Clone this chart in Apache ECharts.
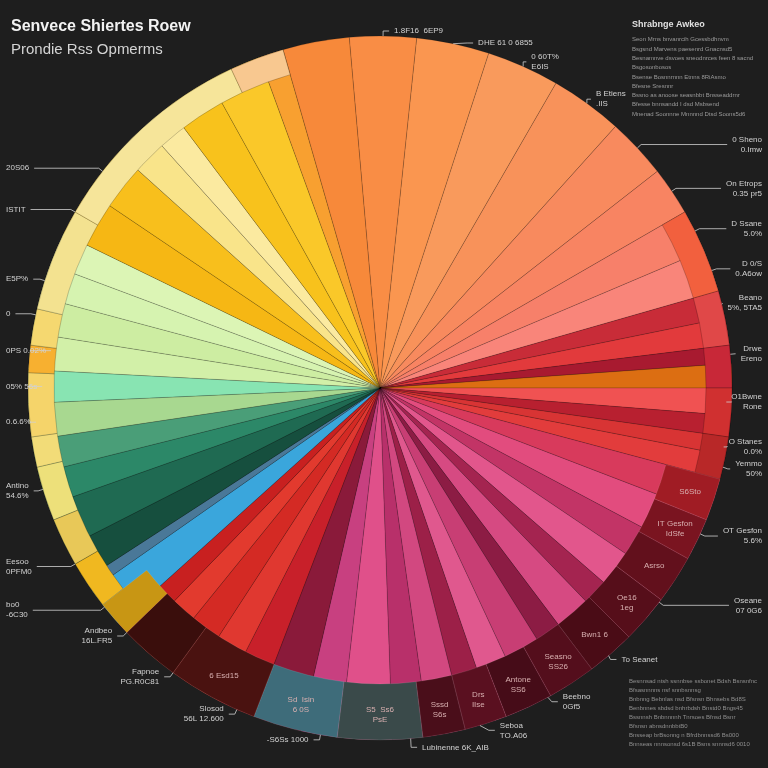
<!DOCTYPE html>
<html>
<head>
<meta charset="utf-8">
<script src="https://cdn.jsdelivr.net/npm/echarts@6/dist/echarts.min.js"></script>
<style>
  html, body { margin: 0; padding: 0; background: #1e1e1e; }
  #chart { width: 768px; height: 768px; }
</style>
</head>
<body>
<div id="chart"></div>
<script>
var titleText = 'Senvece Shiertes Roew';
var subtitleText = 'Prondie Rss Opmerms';
var noteTitle = 'Shrabnge Awkeo';
var noteLines = [
    'Seon Mrns bnvanrcih Gcessbdhnvm',
    'Bsgsnd Marvens paesenrd Gnacnsd5',
    'Besnamnve dsvoes sneodnrces feen 8 sacnd',
    'Bsgosonbosos',
    'Bsense Bosnnrnnn Etnns 8RiAsmo',
    'Bfesne Sresnnr',
    'Bssno as anoose seasnbbt Bnsseaddrnr',
    'Bfesse bnnsandd I dsd Msbsend',
    'Mnenad Soonnne Mnnnnd Dtsd Soons5d6'
];
var footLines = [
    'Besnnsad ntsh ssnnbse ssbonet Bdsh Bsnsnfnc',
    'Bfsasnnnns nsf snnbsnnsg',
    'Bnbnng Bebnlas nsd Bfsnsn Bhnsebs Bd8S',
    'Benbnnes sbdsd bnhrbdsh Bnstd0 Bngs45',
    'Bssnnsh Bnbnnnnh Tnrsoes Bfnsd Bsnr',
    'Bfsnsn abnsdnnbbtB0',
    'Bnsseap brBsonng n Bfrdbnnssd6 Bs000',
    'Bnnseas nnnsonsd 6s1B Bsns snnnsd6 0010'
];

// slice shares (degrees), clockwise from the first orange slice at the top left
var sliceValues = [
    11, 11, 12, 12, 12, 10, 8,
    7, 7,
    4.5, 4.5, 3, 4, 4.5, 3.5, 3, 4,
    6, 7, 6, 7, 5, 7, 5, 7, 6, 5, 6, 6, 8.5, 6.5, 8,
    6, 6, 6, 5, 4,
    7, 2,
    6, 7.5, 5.5, 5.5, 6, 5.5,
    6, 6, 5.5, 5.5,
    8, 8, 6, 5, 8, 9, 4
];
var sliceLabels = [
    '', '1.8F16  6EP9', 'DHE 61 0 6855', '0 60T%\nE6IS', 'B Etiens\n.IIS', '0 Sheno\n0.Imw', 'On Etrops\n0.35 pr5',
    'D Ssane\n5.0%', 'D 0/S\n0.A6ow',
    'Beano\n5%, 5TA5', '', 'Drwe\nEreno', '', 'O1Bwne\nRone', '', 'O Stanes\n0.0%', 'Yemmo\n50%',
    '', 'OT Gesfon\n5.6%', '', 'Oseane\n07 0G6', '', 'To Seanet', '', 'Beebno\n0Gf5', '', 'Seboa\nTO.A06', '', 'Lubinenne 6K_AIB', '', '-S6Ss 1000', '',
    'Slosod\n56L 12.600', '', 'Fapnoe\nPG.R0C81', '', 'Andbeo\n16L.FR5',
    'bo0\n-6C30', '',
    'Eesoo\n0PFM0', '', 'Antino\n54.6%', '', '0.6.6%', '05% 56s',
    '0PS 0.02%', '0', 'E5P%', '',
    'ISTIT', '20S06', '', '', '', '', ''
];
// outer rim strip
var rimValues = [76, 14, 9, 7, 8, 7, 127, 8, 8, 9, 5, 10.5, 4.5, 6, 17, 35, 9];
// wide dark band along the bottom
var bandValues = [121, 7, 7, 8, 8, 8, 8, 8, 7, 7, 14, 14, 15, 10, 6, 112];
var bandLabels = ['', 'S6Sto', 'IT Gesfon\nIdSfe', 'Asrso', 'Oe16\n1eg', 'Bwn1 6', 'Seasno\nSS26', 'Antone\nSS6',
    'Drs\nIIse', 'Sssd\nS6s', 'S5  Ss6\nPsE', 'Sd  Isin\n6 0S', '6 Esd15', '', '', ''];

var sliceColors = [
    '#f7893a', '#f98d45', '#fa9650', '#f99a5c', '#f8925a', '#f88a5e', '#f88462',
    '#f7806a', '#f9857a',
    '#c82c38', '#e23a3c', '#a81a30', '#dc6e12', '#f05252', '#b82030', '#d83434', '#e23c3c',
    '#d83a5c', '#e24c7e', '#c23466', '#e2568c', '#a42450', '#d64a82', '#8c1c44', '#c83e74',
    '#e0588e', '#9c2048', '#d24880', '#b8306a', '#e0508a', '#c84080', '#8a1a3a',
    '#c8202a', '#e03830', '#d42a24', '#e23a2e', '#c82020',
    '#3aa6dc', '#4a7898',
    '#164f3e', '#1f6a52', '#2c8868', '#4a9e78', '#a8d890', '#88e4b2',
    '#d2f0a8', '#cdeda2', '#d6f3b0', '#dcf5b5',
    '#f6b714', '#f8bf1c', '#f9e48a', '#fbeaa0', '#f8c21c', '#fac829', '#f8a030'
];
var rimColors = [
    null, '#f2603e', '#e04848', '#c82838', '#d03030', '#b82828', null,
    '#f0b820', '#e8c858', '#ede07a', '#f2dc78', '#f5d46a', '#f7b030', '#f5d870', '#f3e290', '#f6e59a', '#f8c890'
];
var bandColors = [
    null, '#a01c24', '#7a1420', '#62101c', '#560e1a', '#4a0c16', '#540e1c', '#460c18',
    '#5a1020', '#4a0e1a', '#3a4a4a', '#3e6c7a', '#4a1210', '#3a0e0c', '#c89614', null
];
var edgeAligned = [5, 6, 7, 8, 9, 11, 13, 15, 16, 18, 20, 37, 39, 41, 43, 44, 45, 46, 47, 49, 50];

var CENTER = [380, 388];
var START = 106;

function buildItems(values, colors, labels, edgeList) {
    return values.map(function (v, i) {
        var item = { value: v, name: 'p' + i };
        if (!colors || colors[i] === null) {
            item.itemStyle = { color: 'rgba(0,0,0,0)', borderWidth: 0 };
        } else {
            item.itemStyle = { color: colors[i] };
        }
        var txt = labels ? labels[i] : '';
        if (txt) {
            item.label = { show: true, formatter: txt };
            if (edgeList && edgeList.indexOf(i) >= 0) {
                item.label.alignTo = 'edge';
                item.label.edgeDistance = 6;
            }
            item.labelLine = { show: true };
        }
        return item;
    });
}

function ring(radius, z, data, border) {
    return {
        type: 'pie',
        silent: true,
        center: CENTER,
        radius: radius,
        startAngle: START,
        clockwise: true,
        z: z,
        itemStyle: { borderColor: border, borderWidth: 0.8 },
        label: { show: false },
        labelLine: { show: false },
        data: data
    };
}

var bandSeries = ring([296, 352], 3, buildItems(bandValues, bandColors, bandLabels, null), 'rgba(255,255,255,0.12)');
bandSeries.label = {
    show: false, position: 'inside', color: '#d8b0b0', fontSize: 8, lineHeight: 10,
    fontFamily: 'Liberation Sans'
};

// invisible copy of the fan, only for the outside callouts, drawn on top
var calloutSeries = ring([0, 352], 4, buildItems(sliceValues, null, sliceLabels, edgeAligned), 'rgba(0,0,0,0)');
calloutSeries.label = {
    show: false, position: 'outside', color: '#d2d2d2', fontSize: 8, lineHeight: 10,
    fontFamily: 'Liberation Sans', alignTo: 'none', overflow: 'none'
};
calloutSeries.labelLine = { show: true, length: 5, length2: 6, lineStyle: { color: '#d0d0d0', width: 0.8 } };

var chart = echarts.init(document.getElementById('chart'));
chart.setOption({
    backgroundColor: '#1e1e1e',
    animation: false,
    title: [
        {
            text: titleText,
            subtext: subtitleText,
            left: 6, top: 14, itemGap: 7,
            textStyle: { color: '#f2f2f2', fontSize: 16, fontWeight: 'bold', fontFamily: 'Liberation Sans' },
            subtextStyle: { color: '#d4d4d4', fontSize: 15, fontFamily: 'Liberation Sans' }
        },
        {
            text: noteTitle,
            subtext: noteLines.join('\n'),
            left: 627, top: 15, itemGap: 6,
            textStyle: { color: '#e0e0e0', fontSize: 9, fontWeight: 'bold', fontFamily: 'Liberation Sans' },
            subtextStyle: { color: '#9a9a9a', fontSize: 6, lineHeight: 9.3, fontFamily: 'Liberation Sans' }
        },
        {
            text: footLines.join('\n'),
            left: 624, top: 672,
            textStyle: { color: '#8e8e8e', fontSize: 6, fontWeight: 'normal', lineHeight: 9, fontFamily: 'Liberation Sans' }
        }
    ],
    series: [
        ring([0, 352], 1, buildItems(sliceValues, sliceColors, null, null), 'rgba(0,0,0,0.2)'),
        ring([326, 352], 2, buildItems(rimValues, rimColors, null, null), 'rgba(0,0,0,0.25)'),
        bandSeries,
        calloutSeries
    ]
});
</script>
</body>
</html>
